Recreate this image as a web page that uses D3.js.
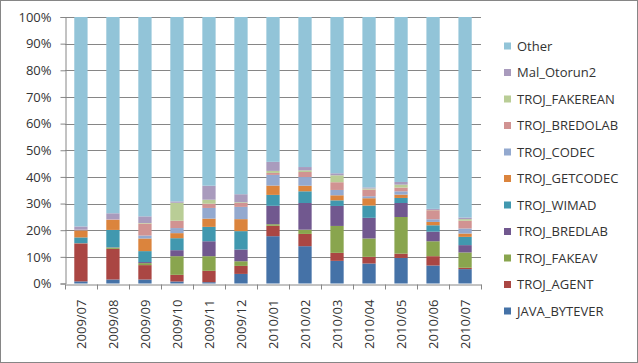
<!DOCTYPE html>
<html>
<head>
<meta charset="utf-8">
<script src="https://cdn.jsdelivr.net/npm/d3@7"></script>
<style>
  body { margin: 0; background: #fff; }
  text { font-family: "Open Sans", sans-serif; font-size: 13px; fill: #333; }
</style>
</head>
<body>
<svg width="638" height="363"></svg>
<script>
var months = ["2009/07", "2009/08", "2009/09", "2009/10", "2009/11", "2009/12",
  "2010/01", "2010/02", "2010/03", "2010/04", "2010/05", "2010/06", "2010/07"];

// stacking order, bottom to top
var seriesNames = ["JAVA_BYTEVER", "TROJ_AGENT", "TROJ_FAKEAV", "TROJ_BREDLAB", "TROJ_WIMAD",
  "TROJ_GETCODEC", "TROJ_CODEC", "TROJ_BREDOLAB", "TROJ_FAKEREAN", "Mal_Otorun2", "Other"];

var javaBytever = [0.8, 1.5, 1.5, 0.75, 0.5, 3.6, 17.75, 14, 8.5, 7.5, 9.6, 6.75, 5.4];
var trojAgent = [14.2, 11.5, 5.4, 2.5, 4.25, 3, 3.9, 4.6, 3, 2.5, 1.6, 3.5, 0.5];
var trojFakeav = [0.1, 0.5, 0.75, 7, 5.5, 1.75, 0.6, 1.6, 10.1, 6.9, 13.75, 5.6, 5.75];
var trojBredlab = [0.1, 0.1, 0.4, 2.25, 5.6, 4.4, 6.9, 10, 7.5, 7.75, 5.25, 3.6, 2.75];
var trojWimad = [2.1, 6.5, 4.1, 4.5, 5.4, 6.9, 4.1, 4.4, 2.1, 4.6, 1.9, 2.4, 3.1];
var trojGetcodec = [2.6, 3.75, 4.75, 1.9, 3.1, 4.5, 3.5, 2.1, 1.9, 2.75, 1.25, 1.25, 1.25];
var trojCodec = [0.1, 0.1, 1.1, 1.9, 4, 4.6, 4, 3.25, 2, 0.75, 1.25, 1, 1.9];
var trojBredolab = [0.2, 0.2, 4.5, 2.75, 1.6, 1.5, 0.75, 1.9, 2.9, 2.5, 1.4, 3.4, 2.9];
var trojFakerean = [0, 0, 0.2, 6.75, 1.5, 0.25, 0.75, 0.6, 2.6, 0.4, 1.1, 0.1, 0.6];
var malOtorun2 = [1.2, 2.2, 2.5, 0.5, 5.25, 3, 3.4, 1.25, 0.75, 0.4, 1, 0.4, 0.6];
var other = [78.6, 73.65, 74.8, 69.2, 63.3, 66.5, 54.35, 56.3, 58.65, 63.95, 61.9, 72, 75.25];

var yTicks = [0, 0.1, 0.2, 0.3, 0.4, 0.5, 0.6, 0.7, 0.8, 0.9, 1];

var colors = ["#4572A7", "#AA4643", "#89A54E", "#71588F", "#4198AF", "#DB843D",
  "#93A9CF", "#D19392", "#B9CD96", "#A99BBD", "#92C4D8"];

var seriesValues = [javaBytever, trojAgent, trojFakeav, trojBredlab, trojWimad,
  trojGetcodec, trojCodec, trojBredolab, trojFakerean, malOtorun2, other];

var rows = months.map(function (m, i) {
  var row = { month: m };
  seriesNames.forEach(function (s, j) { row[s] = seriesValues[j][i]; });
  return row;
});

var svg = d3.select("svg");

// outer chart border
svg.append("rect")
  .attr("x", 0.5).attr("y", 0.5)
  .attr("width", 637).attr("height", 362)
  .attr("fill", "#fff")
  .attr("stroke", "#868686");

var plotLeft = 65, plotRight = 481, plotTop = 17, plotBottom = 283.5;

var xScale = d3.scaleBand().domain(months).range([plotLeft, plotRight]).paddingInner(0.585).paddingOuter(0.29);
var band = d3.scaleBand().domain(months).range([plotLeft, plotRight]);
var yScale = d3.scaleLinear().domain([0, 1]).range([plotBottom, plotTop]);

var stacked = d3.stack().keys(seriesNames).offset(d3.stackOffsetExpand)(rows);

// gridlines
svg.append("g")
  .selectAll("line")
  .data(yTicks.slice(1))
  .enter()
  .append("line")
  .attr("x1", plotLeft).attr("x2", plotRight)
  .attr("y1", function (d) { return Math.round(yScale(d)) + 0.5; })
  .attr("y2", function (d) { return Math.round(yScale(d)) + 0.5; })
  .attr("stroke", "#868686");

// y axis
var yAxis = svg.append("g")
  .attr("transform", "translate(" + (plotLeft + 0.5) + ",0)")
  .call(d3.axisLeft(yScale).tickValues(yTicks).tickFormat(d3.format(".0%")).tickSize(5).tickPadding(9));
yAxis.select(".domain").attr("stroke", "#868686");
yAxis.selectAll(".tick line").attr("stroke", "#868686");
yAxis.selectAll("text").attr("font-family", null).attr("font-size", null);

// bars
svg.append("g")
  .selectAll("g")
  .data(stacked)
  .enter()
  .append("g")
  .attr("fill", function (d, i) { return colors[i]; })
  .selectAll("rect")
  .data(function (d) { return d; })
  .enter()
  .append("rect")
  .attr("x", function (d) { return xScale(d.data.month); })
  .attr("width", xScale.bandwidth())
  .attr("y", function (d) { return yScale(d[1]); })
  .attr("height", function (d) { return yScale(d[0]) - yScale(d[1]); });

// x axis
var xAxis = svg.append("g")
  .attr("transform", "translate(0," + (Math.round(plotBottom) + 0.5) + ")")
  .call(d3.axisBottom(band).tickSize(0).tickPadding(0));
xAxis.select(".domain").attr("stroke", "#868686");
xAxis.selectAll("text")
  .attr("font-family", null).attr("font-size", null)
  .attr("transform", "rotate(-90)")
  .attr("text-anchor", "end")
  .attr("x", -15)
  .attr("y", 0)
  .attr("dy", "0.35em");

// category boundary ticks
var bounds = months.map(function (m) { return band(m); }).concat([plotRight]);
xAxis.selectAll(".bound")
  .data(bounds)
  .enter()
  .append("line")
  .attr("class", "bound")
  .attr("x1", function (d) { return Math.round(d) + 0.5; })
  .attr("x2", function (d) { return Math.round(d) + 0.5; })
  .attr("y1", 0).attr("y2", 5)
  .attr("stroke", "#868686");

// legend, Other on top
var legendNames = seriesNames.slice().reverse();
var legend = svg.append("g")
  .selectAll("g")
  .data(legendNames)
  .enter()
  .append("g")
  .attr("transform", function (d, i) { return "translate(504," + (46 + i * 26.5) + ")"; });

legend.append("rect")
  .attr("x", 0).attr("y", -3.5)
  .attr("width", 7).attr("height", 7)
  .attr("fill", function (d) { return colors[seriesNames.indexOf(d)]; });

legend.append("text")
  .attr("x", 13)
  .attr("dy", "0.35em")
  .text(function (d) { return d; });
</script>
</body>
</html>
